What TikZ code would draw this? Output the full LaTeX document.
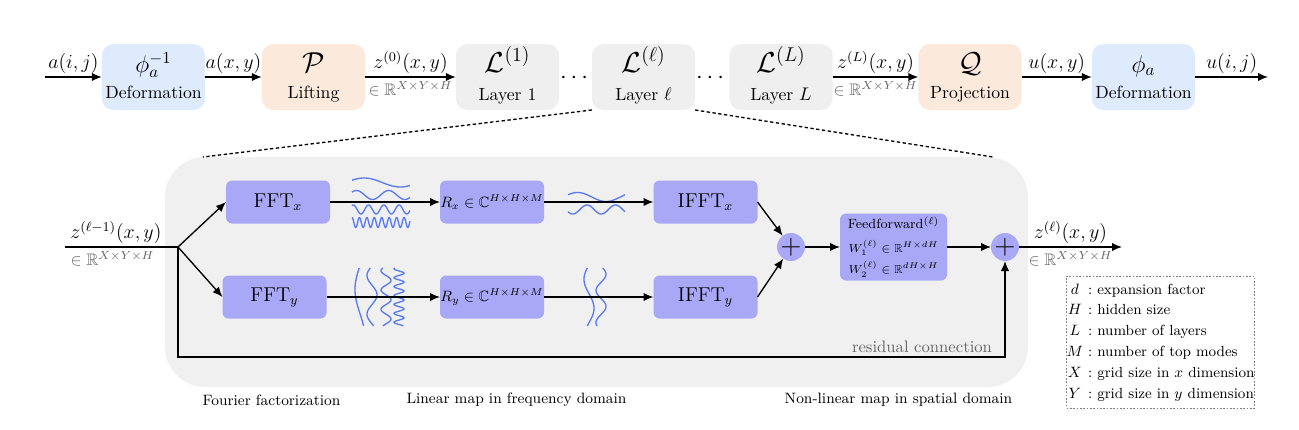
\documentclass[tikz,border=0pt]{standalone}
\usepackage{amsmath,amssymb}
\usetikzlibrary{arrows.meta}
\definecolor{bluebox}{RGB}{221,235,252}
\definecolor{orangebox}{RGB}{251,233,220}
\definecolor{graybox}{RGB}{239,239,239}
\definecolor{bgpanel}{RGB}{240,240,240}
\definecolor{purplebox}{RGB}{168,168,246}
\definecolor{wavecol}{RGB}{90,122,245}
\definecolor{dimgray}{RGB}{100,100,100}
\begin{document}
\begin{tikzpicture}[x=0.6pt,y=-0.6pt,
  every node/.style={inner sep=0pt, outer sep=0pt},
  topbox/.style={rounded corners=7pt, minimum width=62pt, minimum height=39.6pt},
  symtext/.style={font=\LARGE, anchor=base},
  nametext/.style={anchor=base, font=\fontsize{10.6}{12}\selectfont},
  inbox/.style={fill=purplebox, rounded corners=3.6pt, minimum width=62.4pt, minimum height=25.8pt},
  plusnode/.style={circle, fill=purplebox, minimum size=16.8pt, font=\LARGE},
  arr/.style={line width=0.8pt, -{Latex[length=6pt,width=5pt]}},
  conn/.style={line width=0.8pt},
  wave/.style={wavecol, line width=0.8pt},
  lbl/.style={font=\large, inner sep=2.2pt},
  dimlbl/.style={text=dimgray, inner sep=2.5pt},
  dotline/.style={line width=0.8pt, dash pattern=on 2pt off 1.5pt},
  caption/.style={font=\small},
]
\useasboundingbox (0,0) rectangle (1299,430);

% ---------------- top row ----------------
\node[topbox, fill=bluebox] (def1) at (153.5,77) {};
\node[symtext, font=\Large] (def1s) at (153.5,72) {$\phi_a^{-1}$};
\node[nametext] (def1n) at (153.5,98) {Deformation};

\node[topbox, fill=orangebox] (lift) at (313.5,77) {};
\node[symtext] (lifts) at (313.5,72) {$\mathcal{P}$};
\node[nametext] (liftn) at (313.5,98) {Lifting};

\node[topbox, fill=graybox] (lay1) at (507.5,77) {};
\node[symtext] (lay1s) at (507.5,72) {$\mathcal{L}^{(1)}$};
\node[nametext] (lay1n) at (507.5,100) {Layer 1};

\node (dots1) [anchor=base, font=\Large] at (576,83) {$\cdots$};

\node[topbox, fill=graybox] (layl) at (643.5,77) {};
\node[symtext] (layls) at (643.5,72) {$\mathcal{L}^{(\ell)}$};
\node[nametext] (layln) at (643.5,100) {Layer $\ell$};

\node (dots2) [anchor=base, font=\Large] at (712,83) {$\cdots$};

\node[topbox, fill=graybox] (layL) at (781,77) {};
\node[symtext] (layLs) at (781,72) {$\mathcal{L}^{(L)}$};
\node[nametext] (layLn) at (781,100) {Layer $L$};

\node[topbox, fill=orangebox] (proj) at (970,77) {};
\node[symtext] (projs) at (970,72) {$\mathcal{Q}$};
\node[nametext] (projn) at (970,98) {Projection};

\node[topbox, fill=bluebox] (def2) at (1143.5,77) {};
\node[symtext, font=\Large] (def2s) at (1143.5,72) {$\phi_a$};
\node[nametext] (def2n) at (1143.5,98) {Deformation};

\coordinate (tin) at (45,77);
\coordinate (tout) at (1268,77);

\draw[arr] (tin) -- node[lbl, above] {$a(i,j)$} (def1);
\draw[arr] (def1) -- node[lbl, above] {$a(x,y)$} (lift);
\draw[arr] (lift) -- node[lbl, above] {$z^{(0)}(x,y)$} node[dimlbl, below] {$\in\mathbb{R}^{X\times Y\times H}$} (lay1);
\draw[arr] (layL) -- node[lbl, above] {$z^{(L)}(x,y)$} node[dimlbl, below] {$\in\mathbb{R}^{X\times Y\times H}$} (proj);
\draw[arr] (proj) -- node[lbl, above] {$u(x,y)$} (def2);
\draw[arr] (def2) -- node[lbl, above] {$u(i,j)$} (tout);

% ---------------- zoom panel ----------------
\fill[bgpanel, rounded corners=24pt] (165,157) rectangle (1028,387);
\coordinate (pl) at (203,157);
\coordinate (pr) at (993,157);
\draw[dotline] (layl.south west) -- (pl);
\draw[dotline] (layl.south east) -- (pr);

\node[inbox] (fftx) at (278,202) {\large $\mathrm{FFT}_x$};
\node[inbox] (ffty) at (274.5,297) {\large $\mathrm{FFT}_y$};
\node[inbox] (rx) at (492,202) {\small $R_x\in\mathbb{C}^{H\times H\times M}$};
\node[inbox] (ry) at (492,297) {\small $R_y\in\mathbb{C}^{H\times H\times M}$};
\node[inbox] (ifftx) at (705.5,202) {\large $\mathrm{IFFT}_x$};
\node[inbox] (iffty) at (705.5,297) {\large $\mathrm{IFFT}_y$};
\node[plusnode] (p1) at (791,247) {$+$};
\node[inbox, minimum width=64.2pt, minimum height=40.2pt, align=center] (ff) at (893.5,247)
  {\footnotesize Feedforward$^{(\ell)}$\\[2pt]
   {\scriptsize $W_1^{(\ell)}\in\mathbb{R}^{H\times dH}$}\\[1pt]
   {\scriptsize $W_2^{(\ell)}\in\mathbb{R}^{dH\times H}$}};
\node[plusnode] (p2) at (1005,247) {$+$};

% waves (top-left, horizontal)
\draw[wave] plot[domain=0:1, samples=80, smooth, variable=\t] ({352+58*\t},{182.5-4.5*sin(360*0.8*\t+30)});
\draw[wave] plot[domain=0:1, samples=80, smooth, variable=\t] ({352+58*\t},{195-4.5*sin(360*1.8*\t+40)});
\draw[wave] plot[domain=0:1, samples=120, smooth, variable=\t] ({352+58*\t},{209.5-4.5*sin(360*3.8*\t+60)});
\draw[wave] plot[domain=0:1, samples=200, smooth, variable=\t] ({352+58*\t},{222.5-5*sin(360*7.8*\t+90)});
% waves (bottom-left, vertical)
\draw[wave] plot[domain=0:1, samples=80, smooth, variable=\t] ({360-5*sin(360*0.6*\t+10)},{268+58*\t});
\draw[wave] plot[domain=0:1, samples=80, smooth, variable=\t] ({372-5*sin(360*1.5*\t+20)},{268+58*\t});
\draw[wave] plot[domain=0:1, samples=120, smooth, variable=\t] ({386-5*sin(360*3*\t+40)},{268+58*\t});
\draw[wave] plot[domain=0:1, samples=200, smooth, variable=\t] ({399-5*sin(360*6.5*\t+60)},{268+58*\t});
% waves (middle)
\draw[wave] plot[domain=0:1, samples=80, smooth, variable=\t] ({568+57*\t},{197-4.5*sin(360*1*\t+30)});
\draw[wave] plot[domain=0:1, samples=80, smooth, variable=\t] ({568+57*\t},{209.5+4.5*sin(360*2*\t+30)});
\draw[wave] plot[domain=0:1, samples=80, smooth, variable=\t] ({589-5*sin(360*1*\t+20)},{268+58*\t});
\draw[wave] plot[domain=0:1, samples=80, smooth, variable=\t] ({601+5*sin(360*1.8*\t+20)},{268+58*\t});

% connectors
\coordinate (zin) at (65,247);
\coordinate (br) at (178,247);
\coordinate (rc) at (178,357);
\coordinate (zout) at (1122,247);
\draw[line width=1.1pt] (zin) -- node[pos=0.45, lbl, above] {$z^{(\ell-1)}(x,y)$}
   node[pos=0.42, dimlbl, below] {$\in\mathbb{R}^{X\times Y\times H}$} (br);
\draw[arr] (br) -- (fftx.west);
\draw[arr] (br) -- (ffty.west);
\draw[arr] (fftx) -- (rx);
\draw[arr] (ffty) -- (ry);
\draw[arr] (rx) -- (ifftx);
\draw[arr] (ry) -- (iffty);
\draw[arr] (ifftx.east) -- (p1);
\draw[arr] (iffty.east) -- (p1);
\draw[arr] (p1) -- (ff);
\draw[arr] (ff) -- (p2);
\draw[arr] (br) -- (rc) -| (p2.south);
\draw[arr] (p2) -- node[lbl, above] {$z^{(\ell)}(x,y)$} node[dimlbl, below] {$\in\mathbb{R}^{X\times Y\times H}$} (zout);
\node[anchor=base east, text=dimgray] (reslbl) at (992,352) {residual connection};

% captions
\node[caption] (cap1) at (271.5,400) {Fourier factorization};
\node[caption] (cap2) at (516.5,400) {Linear map in frequency domain};
\node[caption] (cap3) at (898.5,400) {Non-linear map in spatial domain};

% legend
\node[draw=gray, line width=0.4pt, dash pattern=on 1pt off 1pt, minimum width=111pt, minimum height=79.2pt] (leg) at (1160.5,342)
  {\fontsize{8.8}{9.6}\selectfont\renewcommand{\arraystretch}{1.3}%
   \begin{tabular}{@{}c@{\ :\ }l@{}}
   $d$ & expansion factor\\
   $H$ & hidden size\\
   $L$ & number of layers\\
   $M$ & number of top modes\\
   $X$ & grid size in $x$ dimension\\
   $Y$ & grid size in $y$ dimension
   \end{tabular}};
\end{tikzpicture}
\end{document}
